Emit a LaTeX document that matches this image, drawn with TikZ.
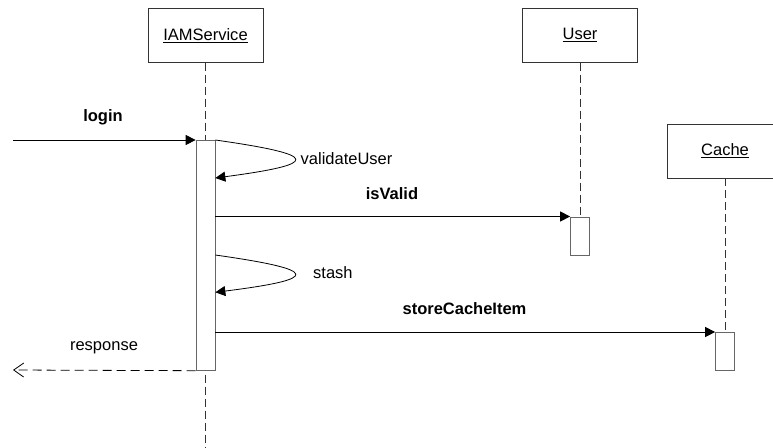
\documentclass[tikz,border=0pt]{standalone}
\usepackage{fontspec}
\setmainfont{Liberation Sans}
\usetikzlibrary{arrows.meta,positioning,calc}

\begin{document}
\begin{tikzpicture}[x=1pt,y=-1pt,
  font=\fontsize{16.5}{19}\selectfont,
  actor/.style={draw=black!80,line width=0.7pt,fill=white,minimum width=115pt,minimum height=54pt,inner sep=0pt},
  bar/.style={draw=black!60,line width=0.7pt,fill=white,minimum width=19pt,inner sep=0pt,anchor=north},
  lifeline/.style={draw=black!80,line width=0.7pt,dash pattern=on 8pt off 4pt},
  call/.style={line width=0.8pt,-{Triangle[length=10pt,width=10pt]}},
  reply/.style={line width=0.8pt,dash pattern=on 9pt off 5pt,-{Straight Barb[length=10pt,width=14pt,line width=0.8pt]}},
  msg/.style={inner sep=0pt,font=\fontsize{16.5}{19}\selectfont\bfseries}]
  \useasboundingbox (0,0) rectangle (773,447);
  \clip (0,0) rectangle (773,447);
  % objects
  \node[actor] (iam) at (205.5,35.3) {\underline{IAMService}};
  \node[actor] (user) at (580,35.3) {\underline{User}};
  \node[actor] (cache) at (725,151) {\underline{Cache}};
  \coordinate (iamend) at (205.5,447);
  \coordinate (loginsrc) at (13,140);
  \coordinate (respdst) at (13,370);
  % lifelines
  \draw[lifeline] (iam.south) -- (iamend);
  \node[bar,minimum height=230pt] (iambar) at (205.5,140) {};
  \node[bar,minimum height=38pt] (userbar) at (580,216.5) {};
  \node[bar,minimum height=38pt] (cachebar) at (725,332) {};
  \draw[lifeline] (user.south) -- (userbar.north);
  \draw[lifeline] (cache.south) -- (cachebar.north);
  % messages
  \draw[call] (loginsrc) -- (iambar.north west);
  \node[msg] (login) at (103,117) {login};
  \coordinate (valin) at ($(iambar.north east)+(0,38)$);
  \draw[call] (iambar.north east) .. controls (321,155) and (321,164) .. (valin);
  \node[inner sep=0pt,anchor=west] (valtxt) at (300.5,159) {validateUser};
  \draw[call] (iambar.east |- userbar.north west) -- (userbar.north west);
  \node[msg] (valid) at (392,194) {isValid};
  \coordinate (stashout) at (iambar.east |- 0,255);
  \coordinate (stashin) at (iambar.east |- 0,292.3);
  \draw[call] (stashout) .. controls (321,270) and (321,279) .. (stashin);
  \node[inner sep=0pt,anchor=west] (stashtxt) at (313,273) {stash};
  \draw[call] (iambar.east |- cachebar.north west) -- (cachebar.north west);
  \node[msg] (store) at (464.5,309) {storeCacheItem};
  \draw[reply] (iambar.south west) -- (respdst);
  \node[inner sep=0pt] (resptxt) at (104,348) {response};
\end{tikzpicture}
\end{document}
